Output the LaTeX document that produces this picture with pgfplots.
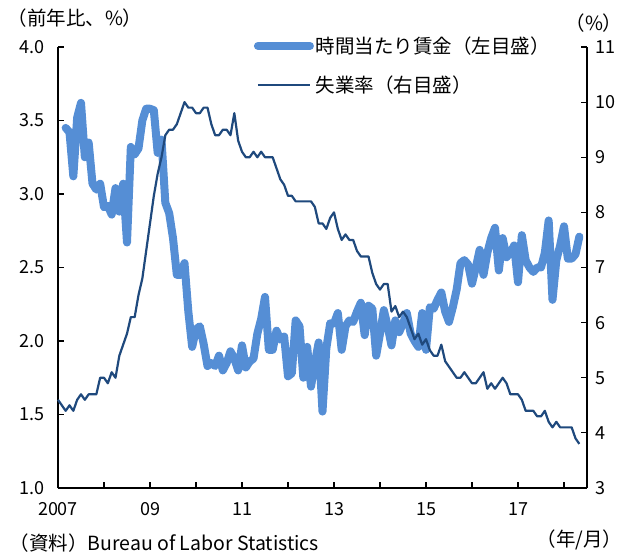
\documentclass[border=0pt]{standalone}
\usepackage{pgfplots}
\pgfplotsset{compat=1.18}
\usepackage{pgfplotstable}
\usepackage{fontspec}
\setmainfont{Noto Sans CJK JP}

\definecolor{wageblue}{RGB}{85,142,213}
\definecolor{unempnavy}{RGB}{31,73,125}

% Average hourly earnings, year-on-year % (month index: 0 = Jan 2007)
\pgfplotstableread{
m v
2 3.45
3 3.42
4 3.12
5 3.52
6 3.62
7 3.25
8 3.35
9 3.07
10 3.03
11 3.07
12 2.91
13 2.92
14 2.86
15 3.04
16 2.88
17 3.07
18 2.67
19 3.32
20 3.27
21 3.31
22 3.50
23 3.58
24 3.58
25 3.57
26 3.28
27 3.37
28 2.94
29 2.87
30 2.70
31 2.45
32 2.45
33 2.53
34 2.20
35 1.96
36 2.08
37 2.10
38 1.98
39 1.83
40 1.85
41 1.83
42 1.90
43 1.80
44 1.85
45 1.93
46 1.88
47 1.80
48 1.97
49 1.82
50 1.86
51 1.88
52 2.05
53 2.15
54 2.30
55 1.94
56 1.94
57 2.07
58 2.01
59 2.03
60 1.76
61 1.78
62 2.14
63 2.10
64 1.75
65 1.96
66 1.69
67 1.85
68 1.99
69 1.52
70 1.95
71 2.12
72 2.12
73 2.19
74 1.94
75 2.10
76 2.14
77 2.13
78 2.20
79 2.26
80 2.04
81 2.24
82 2.22
83 1.90
84 2.05
85 2.21
86 2.10
87 1.97
88 2.14
89 2.06
90 2.12
91 2.19
92 2.05
93 2.00
94 1.96
95 2.19
96 1.94
97 2.23
98 2.22
99 2.28
100 2.33
101 2.20
102 2.13
103 2.23
104 2.35
105 2.53
106 2.55
107 2.52
108 2.39
109 2.50
110 2.62
111 2.45
112 2.60
113 2.70
114 2.77
115 2.48
116 2.70
117 2.57
118 2.60
119 2.65
120 2.40
121 2.72
122 2.55
123 2.50
124 2.47
125 2.50
126 2.50
127 2.60
128 2.82
129 2.28
130 2.55
131 2.65
132 2.78
133 2.56
134 2.56
135 2.59
136 2.71
}\wagetable

% Unemployment rate, % (month index: 0 = Jan 2007)
\pgfplotstableread{
m v
0 4.6
1 4.5
2 4.4
3 4.5
4 4.4
5 4.6
6 4.7
7 4.6
8 4.7
9 4.7
10 4.7
11 5.0
12 5.0
13 4.9
14 5.1
15 5.0
16 5.4
17 5.6
18 5.8
19 6.1
20 6.1
21 6.5
22 6.8
23 7.3
24 7.8
25 8.3
26 8.7
27 9.0
28 9.4
29 9.5
30 9.5
31 9.6
32 9.8
33 10.0
34 9.9
35 9.9
36 9.8
37 9.8
38 9.9
39 9.9
40 9.6
41 9.4
42 9.4
43 9.5
44 9.5
45 9.4
46 9.8
47 9.3
48 9.1
49 9.0
50 9.0
51 9.1
52 9.0
53 9.1
54 9.0
55 9.0
56 9.0
57 8.8
58 8.6
59 8.5
60 8.3
61 8.3
62 8.2
63 8.2
64 8.2
65 8.2
66 8.2
67 8.1
68 7.8
69 7.8
70 7.7
71 7.9
72 8.0
73 7.7
74 7.5
75 7.6
76 7.5
77 7.5
78 7.3
79 7.2
80 7.2
81 7.2
82 6.9
83 6.7
84 6.6
85 6.7
86 6.7
87 6.2
88 6.3
89 6.1
90 6.2
91 6.1
92 5.9
93 5.7
94 5.8
95 5.6
96 5.7
97 5.5
98 5.4
99 5.4
100 5.6
101 5.3
102 5.2
103 5.1
104 5.0
105 5.0
106 5.1
107 5.0
108 4.9
109 4.9
110 5.0
111 5.1
112 4.8
113 4.9
114 4.8
115 4.9
116 5.0
117 4.9
118 4.7
119 4.7
120 4.7
121 4.6
122 4.4
123 4.4
124 4.4
125 4.3
126 4.3
127 4.4
128 4.2
129 4.1
130 4.2
131 4.1
132 4.1
133 4.1
134 4.1
135 3.9
136 3.8
}\unemptable

\newcommand{\lbl}{\fontsize{18}{20}\selectfont}
\newcommand{\jlbl}{\fontsize{19.5}{22}\selectfont}

\pgfplotsset{
  base/.style={
    scale only axis,
    width=529pt, height=441pt,
    at={(0pt,0pt)}, anchor=origin,
    xmin=0, xmax=138,
    tick align=inside,
    major tick length=6pt,
    tick style={black, line width=1.2pt},
    axis line style={black, line width=1.6pt},
    tick label style={font=\lbl},
    /pgf/number format/assume math mode=true,
    clip=false,
  },
}

\begin{document}
\begin{tikzpicture}
\useasboundingbox (-58pt,-69pt) rectangle (566pt,488pt);

% Left axis: hourly earnings
\begin{axis}[
  base,
  axis x line*=bottom,
  axis y line*=left,
  ymin=1, ymax=4,
  ytick={1,1.5,...,4},
  yticklabel style={xshift=-10pt,
    /pgf/number format/.cd,fixed,fixed zerofill,precision=1},
  xtick={0,12,...,132},
  xticklabels={2007,,09,,11,,13,,15,,17,},
  xticklabel style={yshift=-11pt},
]
\addplot[wageblue, line width=8pt, line join=round, line cap=round]
  table[x=m, y=v] {\wagetable};
\end{axis}

% Right axis: unemployment rate
\begin{axis}[
  base,
  axis x line=none,
  axis y line*=right,
  ymin=3, ymax=11,
  ytick={3,4,...,11},
  yticklabel style={xshift=5pt},
  legend style={draw=none, fill=none, font=\jlbl,
    at={(0.37,1.028)}, anchor=north west,
    row sep=17pt, inner sep=0pt},
  legend cell align=left,
  legend image code/.code={\draw[#1] (0pt,0pt) -- (52pt,0pt);},
]
\addlegendimage{wageblue, line width=8pt, line cap=round}
\addlegendentry{時間当たり賃金（左目盛）}
\addplot[unempnavy, line width=2.2pt, line join=round]
  table[x=m, y=v] {\unemptable};
\addlegendentry{失業率（右目盛）}
\end{axis}

\node[font=\jlbl, anchor=west] at (-54pt,470pt) {（前年比、\%）};
\node[font=\jlbl, anchor=east] at (568pt,465pt) {（\%）};
\node[font=\jlbl, anchor=west] at (-52pt,-55pt) {（資料）Bureau of Labor Statistics};
\node[font=\jlbl, anchor=east] at (568pt,-52pt) {（年/月）};
\end{tikzpicture}
\end{document}
